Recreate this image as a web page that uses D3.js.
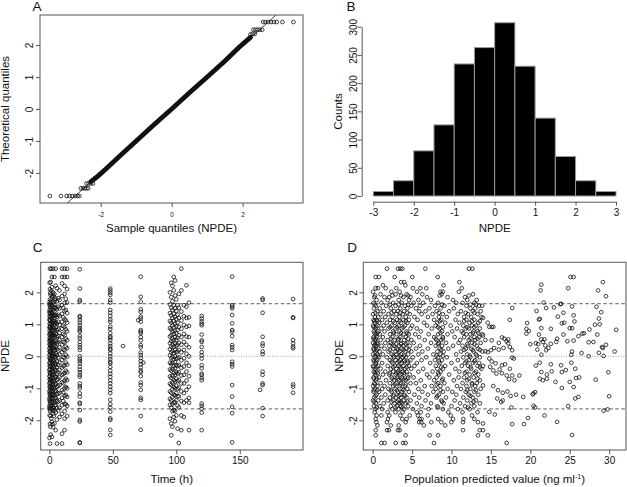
<!DOCTYPE html>
<html>
<head>
<meta charset="utf-8">
<script src="https://cdn.jsdelivr.net/npm/d3@7"></script>
<style>
  body { margin: 0; background: #fff; }
  svg { display: block; font-family: "Liberation Sans", Arial, sans-serif; }
</style>
</head>
<body>
<div id="chart"></div>
<script>
// A: normal QQ plot of NPDE  [sample quantile, theoretical quantile]
const qqCore = [[-2.28,-2.27],[-2.1,-2.12],[-1.8,-1.82],[-1.5,-1.51],[-1.0,-1.0],[-0.5,-0.49],[0,0],
    [0.5,0.51],[1.0,1.0],[1.5,1.5],[1.9,1.93],[2.22,2.24]];
const qqTails = [[-3.43,-2.72],[-3.12,-2.72],[-2.96,-2.72],[-2.88,-2.72],[-2.8,-2.72],[-2.72,-2.72],[-2.65,-2.72],[-2.6,-2.72],
    [-2.56,-2.48],[-2.5,-2.48],[-2.45,-2.48],[-2.4,-2.48],[-2.35,-2.48],
    [-2.4,-2.33],[-2.34,-2.33],[-2.28,-2.33],[-2.22,-2.33],
    [2.22,2.33],[2.28,2.35],[2.34,2.35],[2.3,2.48],[2.36,2.48],[2.42,2.48],[2.48,2.48],[2.55,2.48],
    [2.58,2.72],[2.64,2.72],[2.72,2.72],[2.8,2.72],[2.88,2.72],[2.96,2.72],[3.12,2.72],[3.43,2.72]];

// B: histogram of NPDE
const histBreaks = [-3,-2.5,-2,-1.5,-1,-0.5,0,0.5,1,1.5,2,2.5,3];
const histCounts = [8,27,80,126,234,263,307,230,138,70,27,8];

// C: NPDE vs time (h)
const npdeByTime = [
    [0.1,[1.62,1.38,1.15,0.9,0.68,0.47,0.25,0.04,-0.2,-0.42,-0.62,-0.85,-1.1,-1.33,-1.56,-2.55]],
    [0.25,[2.3,1.7,1.45,1.25,1.02,0.8,0.58,0.38,0.16,-0.06,-0.3,-0.5,-0.72,-0.95,-1.18,-1.4,-1.62,-1.85]],
    [0.5,[2.74,2.1,1.78,1.55,1.31,1.12,0.93,0.71,0.52,0.36,0.15,-0.04,-0.22,-0.41,-0.63,-0.82,-1.05,-1.27,-1.49,-1.71,-2.12,-2.73]],
    [0.75,[1.98,1.6,1.35,1.14,0.92,0.74,0.52,0.32,0.12,-0.1,-0.32,-0.54,-0.76,-0.98,-1.2,-1.43,-1.66,-2.2]],
    [1,[2.32,1.92,1.66,1.43,1.22,1.01,0.84,0.61,0.44,0.27,0.06,-0.13,-0.31,-0.52,-0.71,-0.93,-1.14,-1.36,-1.58,-1.86,-2.45]],
    [1.5,[2.74,2.05,1.74,1.49,1.27,1.06,0.88,0.67,0.49,0.31,0.11,-0.09,-0.27,-0.46,-0.67,-0.88,-1.09,-1.31,-1.55,-1.94]],
    [2,[2.48,2.16,1.85,1.59,1.36,1.17,0.97,0.78,0.56,0.39,0.2,0.02,-0.18,-0.36,-0.57,-0.77,-0.99,-1.21,-1.42,-1.65,-2.05,-2.52]],
    [2.5,[1.9,1.58,1.33,1.1,0.9,0.7,0.46,0.26,0.01,-0.24,-0.47,-0.7,-0.95,-1.19,-1.44,-1.68,-2.12]],
    [3,[2.74,2.0,1.7,1.45,1.25,1.04,0.81,0.63,0.42,0.24,0.08,-0.11,-0.29,-0.49,-0.69,-0.9,-1.12,-1.33,-1.6,-1.8,-2.22]],
    [3.5,[1.88,1.52,1.3,1.1,0.88,0.67,0.45,0.26,0.05,-0.15,-0.35,-0.56,-0.77,-0.98,-1.2,-1.41,-1.63,-1.86]],
    [4,[2.48,1.95,1.62,1.4,1.19,0.99,0.75,0.58,0.34,0.17,-0.02,-0.2,-0.39,-0.6,-0.8,-1.02,-1.24,-1.46,-1.7,-2.1]],
    [4.5,[1.75,1.5,1.26,1.04,0.83,0.62,0.41,0.2,-0.01,-0.22,-0.43,-0.64,-0.85,-1.08,-1.3,-1.54]],
    [5,[2.74,2.21,1.8,1.52,1.29,1.08,0.9,0.69,0.47,0.29,0.1,-0.07,-0.26,-0.44,-0.65,-0.86,-1.07,-1.3,-1.52,-1.76,-2.31]],
    [6,[2.13,1.72,1.47,1.23,1.02,0.82,0.6,0.4,0.22,0.03,-0.16,-0.34,-0.55,-0.74,-0.96,-1.18,-1.39,-1.62,-1.98,-2.73]],
    [7,[1.82,1.55,1.3,1.08,0.85,0.64,0.45,0.18,-0.04,-0.27,-0.5,-0.71,-0.93,-1.16,-1.42,-1.69]],
    [8,[2.06,1.76,1.5,1.26,0.98,0.73,0.51,0.28,0.05,-0.19,-0.43,-0.66,-0.9,-1.15,-1.38,-1.61,-1.9]],
    [10,[2.74,2.48,2.28,1.88,1.6,1.33,1.08,0.86,0.6,0.37,0.13,-0.12,-0.35,-0.58,-0.81,-1.06,-1.3,-1.53,-1.8,-2.42,-2.73]],
    [11,[1.52,1.22,0.96,0.7,0.45,0.21,-0.02,-0.3,-0.55,-0.84,-1.12,-1.4]],
    [12,[2.74,2.48,2.2,1.95,1.67,1.41,1.16,0.92,0.66,0.43,0.19,-0.05,-0.28,-0.52,-0.76,-1.0,-1.24,-1.49,-1.72,-1.95,-2.31]],
    [13,[1.8,1.45,1.12,0.84,0.55,0.3,0.05,-0.2,-0.45,-0.7,-0.96,-1.22,-1.5]],
    [14,[2.74,2.48,2.1,1.68,1.35,1.05,0.78,0.5,0.25,-0.01,-0.26,-0.5,-0.75,-1.0,-1.27,-1.55,-1.87]],
    [24,[2.72,2.12,1.76,1.71,1.26,1.22,1.13,1.05,0.96,0.88,0.82,0.77,0.63,0.56,0.45,0.35,0.28,0.2,0.0,-0.08,-0.15,-0.22,
        -0.32,-0.42,-0.5,-0.58,-0.64,-0.85,-0.93,-1.0,-1.16,-1.26,-1.45,-1.49,-1.68,-1.99,-2.04,-2.69,-2.71]],
    [48,[2.12,2.06,1.99,1.92,1.76,1.68,1.45,1.36,1.26,1.15,1.08,0.93,0.85,0.72,0.62,0.58,0.51,0.4,0.32,0.24,0.2,0.09,0.0,
        -0.09,-0.17,-0.22,-0.33,-0.45,-0.55,-0.64,-0.75,-0.85,-0.95,-1.05,-1.15,-1.36,-1.5,-1.6,-1.73,-1.94,-1.99,-2.3,-2.46]],
    [58,[0.32]],
    [70,[1.13]],
    [72,[2.49,1.86,1.71,1.47,1.39,1.24,1.18,1.08,0.82,0.77,0.72,0.6,0.5,0.35,0.28,0.12,0.04,-0.05,-0.15,-0.25,-0.35,
        -0.45,-0.5,-0.62,-0.82,-0.9,-1.05,-1.3,-1.36,-1.87,-2.3]],
    [74,[-0.2]],
    [95,[2.0,1.62,1.35,1.1,0.88,0.62,0.41,0.22,0.03,-0.2,-0.41,-0.63,-0.86,-1.1,-1.33,-1.52,-1.95]],
    [96,[2.3,1.85,1.52,1.28,1.05,0.84,0.66,0.48,0.3,0.12,-0.06,-0.25,-0.45,-0.68,-0.9,-1.14,-1.38,-1.6,-2.1,-2.47]],
    [97,[2.2,1.72,1.45,1.2,0.97,0.77,0.55,0.36,0.17,-0.02,-0.21,-0.4,-0.6,-0.82,-1.03,-1.27,-1.5,-1.72,-2.2]],
    [98,[2.48,2.06,1.6,1.33,1.11,0.9,0.7,0.5,0.3,0.09,-0.1,-0.31,-0.52,-0.74,-0.96,-1.2,-1.45,-1.68,-1.9]],
    [99,[2.37,1.9,1.5,1.24,1.02,0.8,0.6,0.4,0.2,0.0,-0.18,-0.37,-0.58,-0.79,-1.0,-1.22,-1.44,-1.7,-2.03]],
    [100,[1.78,1.42,1.16,0.94,0.72,0.51,0.33,0.13,-0.08,-0.28,-0.49,-0.7,-0.92,-1.15,-1.38,-1.85]],
    [101,[1.6,1.3,1.05,0.82,0.58,0.36,0.15,-0.06,-0.3,-0.54,-0.78,-1.02,-1.26,-1.54,-2.26]],
    [102,[1.95,1.52,1.2,0.92,0.66,0.42,0.2,-0.03,-0.27,-0.5,-0.74,-0.98,-1.25,-1.6,-2.71]],
    [104,[2.74,2.06,1.4,1.12,0.86,0.6,0.36,0.12,-0.12,-0.36,-0.6,-0.85,-1.1,-1.4,-1.85,-2.31]],
    [106,[1.6,1.25,0.98,0.7,0.45,0.2,-0.06,-0.32,-0.58,-0.85,-1.15,-1.45,-1.9]],
    [108,[2.22,1.55,1.2,0.92,0.62,0.36,0.08,-0.2,-0.48,-0.76,-1.05,-1.38]],
    [110,[1.68,1.22,0.95,0.6,0.28,0.0,-0.3,-0.62,-0.95,-1.3,-1.45,-2.31]],
    [120,[1.26,1.18,1.09,1.02,0.97,0.68,0.5,0.45,0.29,0.13,0.03,-0.07,-0.28,-0.37,-0.54,-0.59,-0.68,-0.75,
        -1.48,-1.55,-1.64,-1.76,-2.31]],
    [144,[2.49,1.6,1.55,1.5,1.29,1.03,0.82,0.77,0.63,0.35,0.28,0.2,-0.17,-0.25,-0.32,-0.9,-1.26,-1.58,-1.78,-2.69]],
    [166,[-1.05]],
    [168,[1.81,1.76,1.36,0.61,0.4,0.33,0.15,0.07,-0.48,-0.58,-0.85,-0.9,-1.62,-1.87]],
    [192,[1.79,1.22,1.2,0.51,0.4,0.3,0.25,-0.88,-0.95,-1.14]]
];

// D: NPDE vs population predicted value, dense part as [npde, [pred...]]
const npdeByPredRows = [
    [2.74,[1.82,3.21,3.51,3.76,6.68,12.22,12.65]],
    [2.48,[0.38,0.8,2.79,5.03,8.25]],
    [2.32,[3.6,4.0,11.0]],
    [2.22,[1.3,4.15,9.0]],
    [2.13,[0.38,0.67,1.65,3.0,5.1,6.05,6.8,11.3]],
    [2.02,[0.04,2.37,3.42,5.62,8.6,8.9,10.95]],
    [1.94,[1.0,2.9,4.3,6.3,8.75,12.73]],
    [1.9,[0.3,2.5,3.6,4.5,8.5,12.2]],
    [1.85,[0.2,1.5,2.1,3.9,4.8,6.9,9.5,11.7]],
    [1.76,[0.5,1.9,3.3,4.6,5.8,7.4,10.2,12.0,13.2]],
    [1.67,[0.1,1.1,2.6,3.7,5.2,6.4,8.3,10.6,11.4,12.9]],
    [1.62,[0.25,2.2,3.3,4.5,8.8,12.4,13.1]],
    [1.58,[0.4,1.7,2.9,4.1,4.9,6.0,7.9,9.1,11.9,13.5,13.9]],
    [1.5,[0.15,0.9,2.3,3.5,4.4,5.5,7.2,8.6,10.3,12.4,13.0]],
    [1.41,[0.6,1.4,2.7,3.2,4.0,5.9,6.7,8.1,9.7,11.2,12.7,13.7]],
    [1.36,[0.35,2.4,3.5,4.4,8.4,11.8,12.9]],
    [1.32,[0.05,1.0,2.0,3.0,3.8,4.7,6.2,7.6,8.9,10.8,12.1,13.3]],
    [1.23,[0.3,0.7,1.6,2.5,3.4,4.2,5.3,7.0,8.4,9.4,11.6,12.5,13.8]],
    [1.14,[0.1,0.5,1.2,2.2,3.1,3.9,4.6,5.7,7.8,8.7,10.5,11.9,12.9]],
    [1.1,[0.2,0.6,2.6,3.4,4.2,8.5,11.6,12.6,13.6]],
    [1.05,[0.25,0.8,1.8,2.8,3.6,4.4,6.5,8.2,9.2,11.0,12.3,13.4]],
    [0.96,[0.05,0.6,1.4,2.4,3.3,4.1,5.0,6.9,8.0,9.9,11.5,12.6,13.1]],
    [0.91,[0.15,0.45,2.2,3.1,3.9,8.3,8.9,12.0,12.9]],
    [0.87,[0.35,1.1,2.0,2.9,3.7,4.8,5.6,7.5,8.5,10.7,11.8,12.2,13.6]],
    [0.78,[0.15,0.7,1.5,2.6,3.4,4.3,6.1,8.8,10.1,11.3,12.8,13.3]],
    [0.73,[0.25,0.6,2.7,3.6,4.4,8.6,11.5,12.7,13.4]],
    [0.69,[0.4,0.9,2.2,3.0,3.9,4.6,5.4,7.1,8.3,9.5,11.9,12.4,13.9]],
    [0.6,[0.1,0.5,1.3,2.5,3.5,4.2,5.9,7.8,8.9,10.4,11.6,12.9,13.5]],
    [0.55,[0.1,0.4,2.3,3.3,4.5,8.0,8.9,12.4,13.3]],
    [0.51,[0.3,1.0,1.9,2.8,3.2,4.0,4.9,6.6,8.1,8.7,11.1,12.2,13.0]],
    [0.42,[0.05,0.6,1.6,2.3,3.6,4.4,5.2,7.4,8.4,9.3,10.9,12.6,13.7]],
    [0.38,[0.3,0.6,2.5,3.0,3.6,4.2,8.3,12.0,12.9]],
    [0.33,[0.2,0.45,1.1,2.1,2.7,3.3,3.9,4.7,6.0,8.0,8.8,10.2,11.4,12.1,13.2]],
    [0.24,[0.1,0.7,1.5,2.6,3.1,3.7,4.3,5.5,7.0,8.5,9.6,11.8,12.5,13.4]],
    [0.2,[0.15,0.5,2.2,3.2,3.9,4.6,8.7,11.6,12.7,13.6]],
    [0.15,[0.35,0.9,2.0,2.9,3.4,4.1,4.9,6.3,8.2,9.0,11.2,12.8,13.9]],
    [0.06,[0.05,0.55,1.3,2.4,3.0,3.6,4.5,5.8,7.7,8.6,10.6,12.0,13.1]],
    [0.02,[0.3,0.7,2.6,3.4,4.0,8.1,8.9,12.3,13.2]],
    [-0.03,[0.25,0.8,1.8,2.7,3.2,3.8,4.2,5.1,6.8,8.3,9.4,11.5,12.4,13.6]],
    [-0.12,[0.1,0.6,2.2,2.9,3.5,4.0,4.8,6.2,7.9,8.8,10.8,12.2,13.0]],
    [-0.16,[0.2,0.45,2.4,3.3,3.9,4.5,8.4,11.9,12.9]],
    [-0.21,[0.4,1.2,2.5,3.1,3.7,4.4,5.6,7.3,8.5,10.0,11.7,12.7,13.5]],
    [-0.3,[0.05,0.7,1.9,2.8,3.3,3.9,4.6,5.3,8.0,9.2,11.3,12.1,13.3]],
    [-0.34,[0.1,0.5,2.6,3.5,4.3,8.7,12.4,13.6]],
    [-0.39,[0.3,1.0,2.3,3.0,3.6,4.1,4.9,6.4,8.2,8.9,10.5,12.5,13.8]],
    [-0.48,[0.15,0.5,1.6,2.6,3.2,3.8,4.3,5.8,7.6,8.6,11.0,11.9,13.1]],
    [-0.52,[0.25,0.65,2.2,3.0,3.4,4.0,8.3,11.7,12.9]],
    [-0.57,[0.35,1.3,2.1,2.9,3.5,4.0,4.7,6.9,8.4,9.7,12.3,13.4]],
    [-0.66,[0.1,0.8,2.4,3.1,3.7,4.5,5.2,7.2,8.1,10.9,11.6,12.8]],
    [-0.7,[0.15,0.55,2.5,3.2,3.8,4.4,8.9,12.2,13.3]],
    [-0.75,[0.45,1.7,2.7,3.3,3.9,4.2,6.1,7.8,8.8,10.3,12.0,13.6]],
    [-0.84,[0.2,1.0,2.2,3.0,3.6,4.8,5.5,8.3,9.1,11.4,12.6,13.2]],
    [-0.88,[0.3,2.8,3.5,4.2,8.1,12.6]],
    [-0.93,[0.05,0.6,1.5,2.6,3.4,4.1,6.6,7.5,8.6,10.7,11.9,13.0]],
    [-1.02,[0.3,1.2,2.0,2.9,3.8,4.4,5.8,8.0,9.5,11.2,12.4,13.7]],
    [-1.06,[0.15,0.6,2.3,3.1,3.9,8.6,12.0,13.1]],
    [-1.11,[0.1,0.8,2.4,3.2,3.7,4.6,6.3,7.7,8.9,10.1,11.8,12.9]],
    [-1.2,[0.5,1.6,2.7,3.5,4.0,5.3,7.0,8.4,10.6,12.2,13.4]],
    [-1.24,[0.35,2.6,3.3,4.1,8.2,12.4]],
    [-1.29,[0.2,1.1,2.2,3.0,3.6,4.3,5.9,8.1,9.3,11.5,12.7]],
    [-1.38,[0.05,0.7,1.9,2.6,3.3,3.9,4.8,6.7,8.7,10.4,12.0,13.1]],
    [-1.42,[0.2,2.4,3.1,3.6,4.4,8.8,12.8]],
    [-1.47,[0.4,1.4,2.8,3.4,3.7,4.2,5.6,7.4,9.0,11.1,12.5,13.6]],
    [-1.56,[0.15,0.9,2.3,3.1,3.6,4.5,6.2,8.2,10.0,11.7,12.9]],
    [-1.6,[0.5,2.9,3.8,8.3,12.1]],
    [-1.65,[0.35,1.2,2.5,3.3,4.0,5.1,7.1,8.9,10.8,12.3]],
    [-1.75,[0.25,1.9,2.9,3.8,5.6,6.1,9.6,11.4,13.3]],
    [-1.85,[0.5,1.1,2.1,3.5,4.7,5.75,7.0,9.9,12.6]],
    [-1.96,[0.38,1.94,3.76,4.3,5.96,6.2,8.3,10.2,11.5,12.9]],
    [-2.06,[0.46,1.8,4.18,5.9,6.17,7.44,8.71,9.98,11.46,13.36]],
    [-2.16,[0.6,2.3,3.3,6.5,9.2]],
    [-2.31,[0.38,1.82,2.07,3.21,3.42,11.46,13.58]],
    [-2.47,[0.38,4.18,7.23,8.29,13.36]],
    [-2.71,[1.1,1.52,2.92,3.85,4.18,7.78]]
];
// D: sparse part above 14 ng/ml as [pred, npde]
const npdePredSparse = [[25.1,2.48],[25.5,2.48],[29.2,2.32],[21.4,2.24],[21.3,2.06],[24.8,2.13],[28.6,2.06],[29.6,1.88],
    [17.7,1.51],[21.7,1.68],[23.0,1.53],[22.0,1.51],[23.8,1.63],[23.9,1.64],[25.3,1.56],[20.8,1.42],[28.4,1.55],[29.0,1.38],
    [24.2,1.36],[25.5,1.28],[23.5,1.24],[21.1,1.15],[21.2,1.17],[25.6,1.09],[17.4,1.14],[19.6,1.04],[24.0,1.03],[24.3,1.05],
    [28.7,1.18],[28.2,0.99],[28.8,1.0],[21.4,0.88],[19.5,0.86],[22.6,0.86],[25.0,0.88],[25.3,0.88],[27.5,0.84],[19.5,0.71],
    [19.8,0.79],[26.8,0.72],[26.6,0.71],[26.1,0.63],[30.9,0.83],[21.1,0.68],[24.2,0.68],[23.4,0.55],[23.3,0.45],[21.4,0.53],
    [21.8,0.53],[28.5,0.68],[20.7,0.41],[21.0,0.38],[21.6,0.45],[22.6,0.39],[24.7,0.47],[25.5,0.49],[27.4,0.44],[28.0,0.45],
    [29.6,0.36],[29.1,0.29],[29.2,0.26],[20.0,0.38],[20.9,0.21],[22.0,0.19],[22.3,0.26],[21.9,0.34],[25.3,0.15],[25.2,0.05],
    [26.5,0.1],[27.4,0.0],[28.7,0.11],[29.3,0.01],[30.7,0.15],[21.4,0.05],[21.2,-0.2],[20.7,-0.29],[22.6,-0.25],[23.9,-0.28],
    [25.2,-0.2],[24.0,-0.49],[21.4,-0.49],[22.7,-0.47],[24.5,-0.43],[25.7,-0.39],[22.1,-0.57],[25.8,-0.68],[26.2,-0.66],
    [21.2,-0.7],[21.6,-0.75],[22.1,-0.7],[23.2,-0.8],[25.0,-0.8],[28.3,-0.73],[29.9,-0.5],[24.0,-0.99],[25.5,-0.96],
    [20.4,-1.16],[20.6,-1.12],[26.1,-1.27],[25.7,-1.32],[30.0,-1.25],[21.8,-1.85],[20.4,-1.55],[20.6,-1.6],[24.8,-1.56],
    [29.3,-1.7],[29.8,-1.66],[23.4,-2.05],[25.3,-2.46],
    [14.0,1.2],[14.6,1.05],[15.1,0.92],[14.8,0.92],[15.3,0.92],[14.0,0.65],[14.3,0.51],[15.1,0.5],[16.0,0.42],[16.4,0.59],
    [16.7,0.55],[17.0,0.47],[17.2,0.53],[17.2,0.41],[17.4,0.29],[16.6,0.26],[16.0,0.21],[15.4,0.26],[15.0,0.19],[14.6,0.13],
    [14.3,0.16],[17.7,0.19],[17.7,-0.04],[17.9,-0.07],[14.8,-0.07],[15.1,-0.16],[15.6,-0.22],[16.4,-0.28],[16.8,-0.25],
    [17.4,-0.39],[17.0,-0.6],[17.3,-0.72],[17.7,-0.6],[18.0,-0.75],[18.6,-0.6],[14.0,-0.3],[14.9,-0.33],[15.3,-0.44],
    [15.7,-0.54],[16.1,-0.41],[16.4,-0.53],[14.0,-0.91],[15.3,-0.93],[15.9,-1.06],[16.5,-1.14],[17.1,-1.1],[17.5,-1.24],
    [16.5,-1.38],[16.3,-1.43],[15.8,-1.32],[17.6,-1.6],[18.2,-1.2],[19.1,-1.27],[20.3,-1.19],[14.8,-1.74],[15.5,-1.82],
    [14.0,-2.1],[17.7,-2.12],[19.2,-2.12],[19.7,-1.93],[14.0,-2.31],[14.6,-2.47],[17.0,-2.71]];

const npdeTicks = [-2, -1, 0, 1, 2];
const predInterval = [-1.645, 1.645];

const ink = "#111", frame = "#555";
const fmt = d => String(d);

const svg = d3.select("#chart").append("svg")
    .attr("width", 627)
    .attr("height", 487);

function axes(g, x, y, o) {
    const xa = g.append("g")
        .attr("transform", `translate(0,${o.xAt})`)
        .call(d3.axisBottom(x).tickValues(o.xTicks).tickFormat(fmt).tickSize(4).tickSizeOuter(0));
    xa.selectAll("text").attr("y", o.xLab).attr("dy", null)
        .style("font-size", (o.xFont || 10) + "px");
    const ya = g.append("g")
        .attr("transform", `translate(${o.yAt},0)`)
        .call(d3.axisLeft(y).tickValues(o.yTicks).tickFormat(fmt).tickSize(4).tickSizeOuter(0));
    ya.selectAll("text").attr("x", null).attr("dy", null)
        .attr("transform", `translate(${-o.yLab},0) rotate(-90)`)
        .attr("text-anchor", "middle")
        .style("font-size", "10px");
    [xa, ya].forEach(a => {
        a.attr("font-family", null);
        a.selectAll("text").attr("fill", ink);
        a.selectAll("line").attr("stroke", frame);
        if (o.box) a.select(".domain").remove();
        else a.select(".domain").attr("stroke", frame);
    });
}

function box(g, x, y) {
    g.append("rect")
        .attr("x", x.range()[0]).attr("y", y.range()[1])
        .attr("width", x.range()[1] - x.range()[0])
        .attr("height", y.range()[0] - y.range()[1])
        .attr("fill", "none").attr("stroke", frame).attr("stroke-width", 1);
}

function label(txt, x, y, size, rot) {
    return svg.append("text")
        .attr("transform", `translate(${x},${y})` + (rot ? " rotate(-90)" : ""))
        .attr("text-anchor", "middle")
        .attr("fill", ink)
        .style("font-size", size + "px")
        .text(txt);
}

function circles(g, pts, x, y) {
    g.selectAll(null)
        .data(pts)
        .enter().append("circle")
        .attr("cx", d => x(d[0]))
        .attr("cy", d => y(d[1]))
        .attr("r", 1.85)
        .attr("fill", "none")
        .attr("stroke", ink)
        .attr("stroke-width", 0.8);
}

// ---- A
{
    const x = d3.scaleLinear().domain([-3.71, 3.70]).range([40, 303]);
    const y = d3.scaleLinear().domain([-2.94, 2.94]).range([203, 15]);
    const g = svg.append("g");
    svg.append("clipPath").attr("id", "clipA").append("rect")
        .attr("x", 40).attr("y", 15).attr("width", 263).attr("height", 188);
    g.append("path")
        .datum(x.domain())
        .attr("clip-path", "url(#clipA)")
        .attr("d", d3.line().x(d => x(d)).y(d => y(d)))
        .attr("stroke", ink).attr("stroke-width", 0.8).attr("fill", "none");
    g.append("path")
        .datum(qqCore)
        .attr("d", d3.line().x(d => x(d[0])).y(d => y(d[1])))
        .attr("stroke", ink).attr("stroke-width", 4.8)
        .attr("stroke-linecap", "round").attr("fill", "none");
    circles(g, qqTails, x, y);
    box(g, x, y);
    axes(g, x, y, { xAt: 203, xLab: 13.5, xFont: 6.5, xTicks: [-2, 0, 2], yAt: 40, yLab: 7, yTicks: npdeTicks, box: true });
    label("Sample quantiles (NPDE)", 171.5, 232, 11.5);
    label("Theoretical quantiles", 8.5, 109, 11.5, true);
    label("A", 37, 10.5, 13.5);
}

// ---- B
{
    const x = d3.scaleLinear().domain([-3, 3]).range([373.3, 616]);
    const y = d3.scaleLinear().domain([0, 300]).range([196, 26.7]);
    const g = svg.append("g");
    g.selectAll("rect")
        .data(histCounts)
        .enter().append("rect")
        .attr("x", (d, i) => x(histBreaks[i]))
        .attr("width", (d, i) => x(histBreaks[i + 1]) - x(histBreaks[i]))
        .attr("y", d => y(d))
        .attr("height", d => y(0) - y(d))
        .attr("fill", "#000")
        .attr("stroke", "#9a9a9a")
        .attr("stroke-width", 1);
    axes(g, x, y, { xAt: 201.7, xLab: 14.8, xTicks: d3.range(-3, 4), yAt: 361.7, yLab: 5, yTicks: d3.range(0, 301, 50) });
    label("NPDE", 494.7, 231.5, 11.5);
    label("Counts", 341.5, 111.5, 11.5, true);
    label("B", 351, 10.5, 13.5);
}

function refLines(g, x, y) {
    g.selectAll(null)
        .data(predInterval)
        .enter().append("line")
        .attr("x1", x.range()[0]).attr("x2", x.range()[1])
        .attr("y1", d => y(d)).attr("y2", d => y(d))
        .attr("stroke", "#333").attr("stroke-width", 0.8)
        .attr("stroke-dasharray", "3.5,2.5");
    g.append("line")
        .attr("x1", x.range()[0]).attr("x2", x.range()[1])
        .attr("y1", y(0)).attr("y2", y(0))
        .attr("stroke", "#888").attr("stroke-width", 0.8)
        .attr("stroke-dasharray", "1,1.6");
}

// ---- C
{
    const x = d3.scaleLinear().domain([-6.8, 199.8]).range([40.7, 303]);
    const y = d3.scaleLinear().domain([-2.93, 2.94]).range([450, 262.3]);
    const g = svg.append("g");
    refLines(g, x, y);
    circles(g, npdeByTime.flatMap(([t, vs]) => vs.map(v => [t, v])), x, y);
    box(g, x, y);
    axes(g, x, y, { xAt: 450, xLab: 13.5, xTicks: [0, 50, 100, 150], yAt: 40.7, yLab: 7.4, yTicks: npdeTicks, box: true });
    label("Time (h)", 171.8, 483, 11.5);
    label("NPDE", 9, 356, 11.5, true);
    label("C", 37.5, 252, 13.5);
}

// ---- D
{
    const x = d3.scaleLinear().domain([-1.19, 32.14]).range([363.3, 626]);
    const y = d3.scaleLinear().domain([-2.93, 2.94]).range([450, 262.3]);
    const g = svg.append("g");
    refLines(g, x, y);
    const dense = npdeByPredRows.flatMap(([v, ps]) => ps.map(p => [p, v]));
    circles(g, dense.concat(npdePredSparse), x, y);
    box(g, x, y);
    axes(g, x, y, { xAt: 450, xLab: 13.5, xTicks: d3.range(0, 31, 5), yAt: 363.3, yLab: 6.6, yTicks: npdeTicks, box: true });
    const t = label("Population predicted value (ng ml", 494.6, 483, 11.5);
    t.append("tspan").attr("dy", -4).style("font-size", "7px").text("-1");
    t.append("tspan").attr("dy", 4).text(")");
    label("NPDE", 343, 356, 11.5, true);
    label("D", 352, 252, 13.5);
}
</script>
</body>
</html>
